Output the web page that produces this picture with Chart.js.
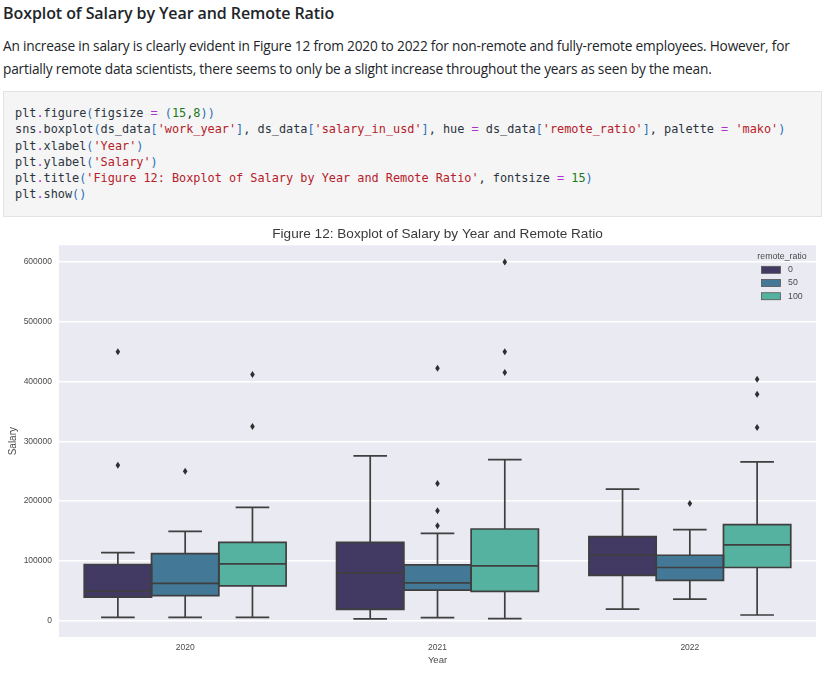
<!DOCTYPE html>
<html>
<head>
<meta charset="utf-8">
<script src="https://cdn.jsdelivr.net/npm/chart.js@4"></script>
<style>
    html, body { margin: 0; padding: 0; background: #fff; width: 825px; height: 676px; overflow: hidden; }
    body { font-family: "Open Sans", sans-serif; color: #212529; position: relative; }
    h3 { position: absolute; left: 3px; top: 2px; margin: 0; font-size: 16px; line-height: 22px; font-weight: 600; letter-spacing: -0.08px; white-space: nowrap; }
    p { position: absolute; left: 3px; top: 34px; width: 820px; margin: 0; font-size: 13.7px; line-height: 23px; letter-spacing: -0.2px; white-space: nowrap; }
    pre { position: absolute; left: 3px; top: 91px; width: 819px; height: 126px; margin: 0; box-sizing: border-box; padding: 13px 11px; background: #f5f5f5; border: 1px solid #e3e3e3; font-family: "DejaVu Sans Mono", monospace; font-size: 11.85px; line-height: 16.3px; color: #2b3440; }
    .s { color: #b5202a; }
    .o { color: #b02fd0; }
    .n { color: #1a7a1a; }
    .b { color: #2a6fb5; }
    #wrap { position: absolute; left: 0; top: 220px; width: 825px; height: 456px; }
    #chart { filter: blur(0.35px); }
</style>
</head>
<body>
<h3>Boxplot of Salary by Year and Remote Ratio</h3>
<p>An increase in salary is clearly evident in Figure 12 from 2020 to 2022 for non-remote and fully-remote employees. However, for<br>partially remote data scientists, there seems to only be a slight increase throughout the years as seen by the mean.</p>
<pre>plt<span class="o">.</span>figure<span class="b">(</span>figsize <span class="o">=</span> <span class="b">(</span><span class="n">15</span>,<span class="n">8</span><span class="b">))</span>
sns<span class="o">.</span>boxplot<span class="b">(</span>ds_data<span class="b">[</span><span class="s">'work_year'</span><span class="b">]</span>, ds_data<span class="b">[</span><span class="s">'salary_in_usd'</span><span class="b">]</span>, hue <span class="o">=</span> ds_data<span class="b">[</span><span class="s">'remote_ratio'</span><span class="b">]</span>, palette <span class="o">=</span> <span class="s">'mako'</span><span class="b">)</span>
plt<span class="o">.</span>xlabel<span class="b">(</span><span class="s">'Year'</span><span class="b">)</span>
plt<span class="o">.</span>ylabel<span class="b">(</span><span class="s">'Salary'</span><span class="b">)</span>
plt<span class="o">.</span>title<span class="b">(</span><span class="s">'Figure 12: Boxplot of Salary by Year and Remote Ratio'</span>, fontsize <span class="o">=</span> <span class="n">15</span><span class="b">)</span>
plt<span class="o">.</span>show<span class="b">()</span></pre>
<div id="wrap"><canvas id="chart" width="825" height="456"></canvas></div>
<script>
const years = ["2020", "2021", "2022"];
const remoteRatios = ["0", "50", "100"];
const yTicks = [0, 100000, 200000, 300000, 400000, 500000, 600000];
const colors = ["#423a63", "#437896", "#56b2a0"];

// per remote ratio, one entry per year
const low0 = [5500, 2800, 19400];
const q1_0 = [39400, 18900, 75600];
const med0 = [49400, 80000, 110000];
const q3_0 = [93900, 131100, 140600];
const high0 = [113900, 275600, 220000];
const fliers0 = [[450000, 260000], [], []];

const low50 = [5500, 5000, 36100];
const q1_50 = [41700, 51100, 67200];
const med50 = [62200, 63300, 88900];
const q3_50 = [112200, 93300, 109400];
const high50 = [149400, 146100, 152200];
const fliers50 = [[250000], [422400, 229400, 183900, 158900], [196100]];

const low100 = [5500, 3300, 9400];
const q1_100 = [58300, 48900, 88900];
const med100 = [95000, 91700, 126700];
const q3_100 = [131100, 153300, 160600];
const high100 = [189400, 269400, 265600];
const fliers100 = [[412000, 325000], [600000, 450000, 415000], [404000, 379000, 323000]];

const lows = [low0, low50, low100];
const q1s = [q1_0, q1_50, q1_100];
const meds = [med0, med50, med100];
const q3s = [q3_0, q3_50, q3_100];
const highs = [high0, high50, high100];
const fliers = [fliers0, fliers50, fliers100];

const LINE = "#3f3f3f";
const SANS = '"Liberation Sans", Arial, sans-serif';

const plotBackground = {
    id: "plotBackground",
    beforeDraw(chart) {
        const { ctx, chartArea: a } = chart;
        ctx.save();
        ctx.fillStyle = "#eaeaf2";
        ctx.fillRect(a.left, a.top, a.width, a.height);
        ctx.restore();
    },
};

// whiskers, box outlines, medians and fliers, on top of the floating bars
const boxParts = {
    id: "boxParts",
    afterDatasetsDraw(chart) {
        const { ctx } = chart;
        const y = chart.scales.y;
        ctx.save();
        ctx.strokeStyle = LINE;
        ctx.lineWidth = 1.7;
        remoteRatios.forEach((_, s) => {
            chart.getDatasetMeta(s).data.forEach((bar, i) => {
                const x = bar.x;
                const half = bar.width / 2;
                const yLow = y.getPixelForValue(lows[s][i]);
                const yQ1 = y.getPixelForValue(q1s[s][i]);
                const yMed = y.getPixelForValue(meds[s][i]);
                const yQ3 = y.getPixelForValue(q3s[s][i]);
                const yHigh = y.getPixelForValue(highs[s][i]);
                ctx.beginPath();
                ctx.moveTo(x, yQ1); ctx.lineTo(x, yLow);
                ctx.moveTo(x, yQ3); ctx.lineTo(x, yHigh);
                ctx.moveTo(x - half / 2, yLow); ctx.lineTo(x + half / 2, yLow);
                ctx.moveTo(x - half / 2, yHigh); ctx.lineTo(x + half / 2, yHigh);
                ctx.moveTo(x - half, yMed); ctx.lineTo(x + half, yMed);
                ctx.rect(x - half, yQ3, half * 2, yQ1 - yQ3);
                ctx.stroke();
                ctx.fillStyle = "#2f2f2f";
                fliers[s][i].forEach((v) => {
                    const py = y.getPixelForValue(v);
                    ctx.beginPath();
                    ctx.moveTo(x, py - 3.5);
                    ctx.lineTo(x + 2.3, py);
                    ctx.lineTo(x, py + 3.5);
                    ctx.lineTo(x - 2.3, py);
                    ctx.closePath();
                    ctx.fill();
                });
            });
        });
        ctx.restore();
    },
};

// seaborn keeps its legend inside the axes, top right
const insideLegend = {
    id: "insideLegend",
    afterDraw(chart) {
        const { ctx, chartArea: a } = chart;
        ctx.save();
        ctx.font = "8.8px " + SANS;
        ctx.fillStyle = "#4a4a4a";
        ctx.textBaseline = "middle";
        ctx.textAlign = "center";
        ctx.fillText("remote_ratio", a.right - 34, a.top + 11);
        ctx.textAlign = "left";
        remoteRatios.forEach((label, s) => {
            const top = a.top + 21 + s * 13.2;
            ctx.fillStyle = colors[s];
            ctx.fillRect(a.right - 54.5, top, 19, 7);
            ctx.strokeStyle = "#555";
            ctx.lineWidth = 0.8;
            ctx.strokeRect(a.right - 54.5, top, 19, 7);
            ctx.fillStyle = "#4a4a4a";
            ctx.fillText(label, a.right - 28, top + 3.5);
        });
        ctx.restore();
    },
};

new Chart(document.getElementById("chart"), {
    type: "bar",
    data: {
        labels: years,
        datasets: remoteRatios.map((label, s) => ({
            label,
            data: years.map((_, i) => [q1s[s][i], q3s[s][i]]),
            backgroundColor: colors[s],
            borderWidth: 0,
            categoryPercentage: 0.8,
            barPercentage: 1,
        })),
    },
    options: {
        responsive: false,
        animation: false,
        layout: { padding: { left: 0, right: 9, top: 3, bottom: 0 } },
        plugins: {
            legend: { display: false },
            tooltip: { enabled: false },
            title: {
                display: true,
                fullSize: false,
                text: "Figure 12: Boxplot of Salary by Year and Remote Ratio",
                color: "#3a3a3a",
                font: { family: SANS, size: 13.6, weight: "normal" },
                padding: { top: 3, bottom: 3 },
            },
        },
        scales: {
            x: {
                afterFit(scale) { scale.height = 39; },
                grid: { display: false, drawTicks: false },
                border: { display: false },
                ticks: { color: "#4a4a4a", font: { family: SANS, size: 8.5 }, padding: 6 },
                title: { display: true, text: "Year", color: "#4a4a4a", font: { family: SANS, size: 9.5 }, padding: { top: 2, bottom: 10 } },
            },
            y: {
                min: -27400,
                max: 628000,
                afterFit(scale) { scale.width = 59; },
                afterBuildTicks(scale) { scale.ticks = yTicks.map((value) => ({ value })); },
                grid: { color: "#ffffff", lineWidth: 1.4, drawTicks: false },
                border: { display: false },
                ticks: { color: "#4a4a4a", font: { family: SANS, size: 8.5 }, padding: 7, callback: (v) => String(v) },
                title: { display: true, text: "Salary", color: "#4a4a4a", font: { family: SANS, size: 10 }, padding: { top: 7, bottom: 0 } },
            },
        },
    },
    plugins: [plotBackground, boxParts, insideLegend],
});
</script>
</body>
</html>
